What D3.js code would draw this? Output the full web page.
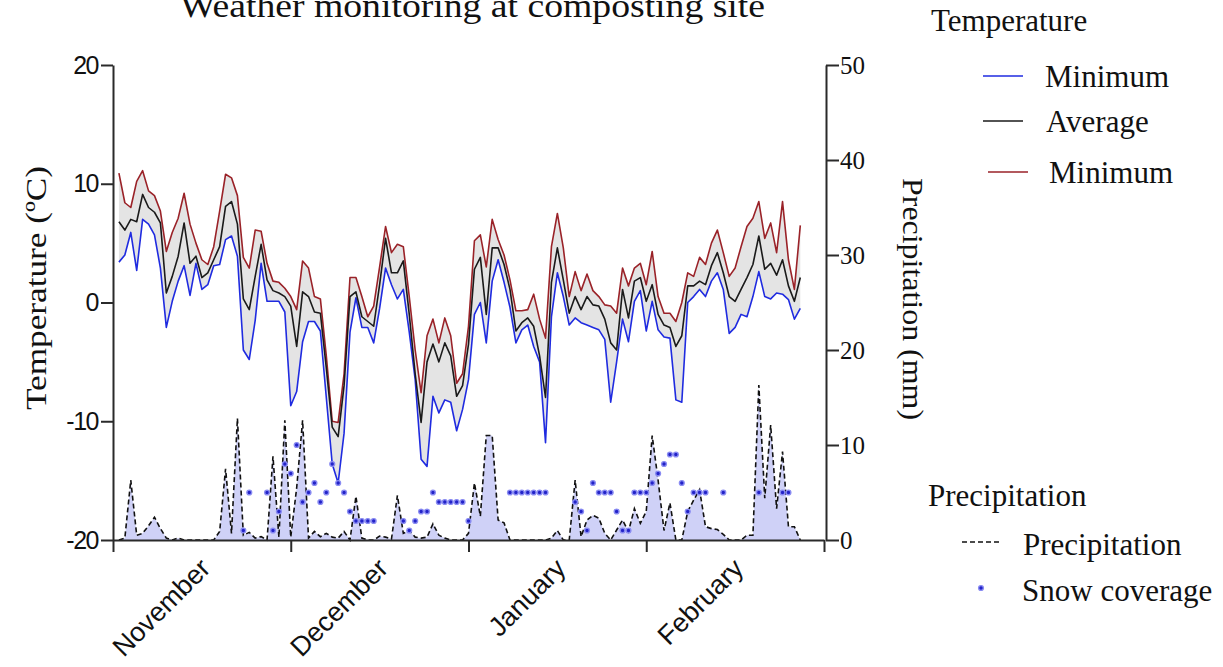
<!DOCTYPE html>
<html>
<head>
<meta charset="utf-8">
<script src="https://cdn.jsdelivr.net/npm/d3@7"></script>
<style>
  body { margin: 0; background: #fff; }
  svg { display: block; }
  .serif { font-family: "Liberation Serif", "DejaVu Serif", serif; fill: #111; }
  .sans { font-family: "Liberation Sans", Arial, sans-serif; fill: #111; }
</style>
</head>
<body>
<svg id="chart" width="1223" height="667"></svg>
<script>
// daily readings, day 1 .. 116 (Nov -> late Feb)
const maxTemp = [10.9, 8.4, 8.0, 10.2, 11.1, 9.4, 9.0, 7.7, 4.3, 5.9, 7.1, 9.2, 6.6, 5.0, 3.6, 3.2, 4.7, 7.7, 10.8, 10.5,
  9.0, 3.8, 2.9, 6.1, 6.0, 3.3, 1.8, 1.7, 1.2, 0.5, -0.6, 3.5, 2.9, 0.5, 0.3, -4.5, -10.0, -10.1, -6.0, 2.1,
  2.1, 0.5, -1.2, -0.3, 3.0, 6.4, 4.2, 4.9, 4.7, 0.5, -4.0, -7.6, -2.8, -1.4, -3.4, -1.3, -2.8, -6.8, -6.0, -2.0,
  5.2, 5.7, 3.0, 7.0, 5.3, 4.0, 1.9, -0.7, -0.7, -0.6, 0.7, -1.4, -3.0, 4.7, 7.5, 4.6, 0.5, 2.6, 1.0, 2.4,
  1.0, 0.5, -0.2, -0.3, -0.9, 2.9, 1.4, 2.9, 3.3, 1.5, 4.3, 0.5, -0.9, -0.9, -1.6, 0.0, 2.5, 2.2, 3.8, 3.2,
  5.0, 6.1, 4.2, 2.2, 2.9, 4.7, 6.4, 7.1, 8.5, 5.4, 6.7, 4.2, 8.5, 3.6, 1.1, 6.5];
const avgTemp = [6.8, 6.1, 7.0, 6.8, 9.1, 8.0, 7.6, 6.7, 0.8, 2.2, 3.9, 6.7, 3.3, 3.9, 2.1, 2.5, 3.6, 4.7, 8.1, 8.5,
  6.6, 0.3, -0.6, 2.2, 4.9, 1.9, 1.0, 0.8, 0.5, -0.3, -3.7, 0.9, 0.5, -0.8, -0.9, -5.5, -10.5, -11.3, -7.0, 0.5,
  0.9, -1.2, -1.6, -2.0, 1.5, 5.4, 2.5, 2.5, 3.5, -1.0, -6.0, -10.1, -5.0, -3.5, -5.0, -3.4, -4.5, -7.9, -7.0, -3.5,
  2.8, 3.8, -1.0, 4.6, 4.6, 3.2, 1.1, -2.4, -1.7, -1.3, -2.0, -4.5, -8.0, 1.7, 4.6, 1.9, -0.9, 0.5, -0.6, 0.5,
  -0.2, -0.3, -1.4, -3.4, -4.0, 1.1, -1.3, 1.8, 2.1, 0.1, 1.5, -1.0, -1.9, -2.1, -3.7, -2.8, 1.4, 1.4, 1.8, 1.5,
  3.1, 4.2, 2.5, 0.5, 0.1, 1.1, 2.1, 3.2, 5.6, 2.8, 3.3, 2.3, 3.6, 1.4, 0.1, 2.1];
const minTemp = [3.4, 4.0, 5.9, 2.7, 7.0, 6.6, 5.7, 2.9, -2.1, 0.1, 1.8, 3.1, 0.6, 3.3, 1.1, 1.5, 3.1, 3.2, 5.3, 5.6,
  3.9, -4.0, -4.8, -1.5, 3.3, 0.1, 0.1, 0.1, -0.8, -8.7, -7.5, -3.3, -1.6, -1.6, -2.4, -8.0, -13.6, -15.2, -11.0, -2.5,
  0.4, -2.1, -2.1, -3.4, -0.5, 2.9, 1.5, 0.3, 1.1, -2.5, -6.5, -13.2, -13.8, -7.9, -9.3, -8.2, -8.4, -10.8, -9.0, -6.5,
  -1.0, 0.0, -3.4, 1.8, 3.6, 1.7, -0.4, -3.4, -2.3, -1.9, -3.7, -5.0, -11.8, -1.2, 2.5, 0.5, -1.9, -1.3, -1.7, -1.9,
  -2.1, -2.3, -3.1, -8.4, -5.0, -1.4, -3.3, 0.1, 1.0, -2.4, 0.1, -2.3, -2.9, -3.0, -8.2, -8.4, 0.0, 0.5, 1.1, 0.5,
  1.8, 2.5, 1.1, -2.6, -2.1, -1.0, -1.2, 0.5, 2.6, 0.5, 0.3, 0.8, 0.7, 0.25, -1.4, -0.5];
const precip = [0, 0.2, 6.3, 0.5, 0.7, 1.5, 2.4, 1.2, 0.2, 0, 0.2, 0, 0, 0, 0, 0, 0, 0.9, 7.5, 0.7,
  12.8, 0.5, 0.8, 0.2, 0.35, 0, 8.8, 0.3, 12.6, 0.3, 5.5, 12.6, 0.2, 0.9, 0.35, 0.7, 0.3, 0.2, 0.9, 0,
  4.6, 0.2, 0, 0, 0.4, 0.3, 0.1, 4.7, 0.7, 1.0, 0.3, 0.2, 0.3, 1.7, 0.5, 0.2, 0, 0, 0, 0.7,
  6.0, 2.5, 11.0, 11.0, 2.1, 1.8, 0, 0, 0, 0, 0, 0, 0, 0.2, 1.0, 0, 0, 6.3, 0.35, 2.1,
  2.6, 2.3, 0.7, 0, 1.05, 2.1, 0.9, 3.3, 1.75, 3.0, 11.0, 6.3, 1.0, 3.9, 0, 0, 3.0, 4.2, 5.3, 1.4,
  1.2, 1.1, 0.6, 0, 0, 0, 0.5, 0.5, 16.3, 4.4, 12.1, 3.3, 9.3, 1.4, 1.4, 0];
const snowDays = [22, 23, 26, 27, 28, 29, 30, 31, 32, 33, 34, 35, 36, 37, 38, 39, 40, 41, 42, 43, 44,
  49, 50, 51, 52, 53, 54, 55, 56, 57, 58, 59, 60, 67, 68, 69, 70, 71, 72, 73,
  78, 79, 80, 81, 82, 83, 84, 85, 86, 87, 88, 89, 90, 91, 92, 93, 94, 95, 96, 97, 98, 99, 100,
  103, 109, 113, 114];
const snowDepth = [1, 5, 5, 1, 3, 8, 7, 10, 4, 5, 6, 4, 5, 8, 6, 5, 3, 2, 2, 2, 2,
  2, 1, 2, 3, 3, 5, 4, 4, 4, 4, 4, 2, 5, 5, 5, 5, 5, 5, 5,
  4, 3, 1, 6, 5, 5, 5, 3, 1, 1, 5, 5, 5, 6, 7, 8, 9, 9, 6, 3, 5, 5, 5,
  5, 5, 5, 5];
const months = ["November", "December", "January", "February"];
const monthStarts = [0, 30, 60, 90, 120];
const tempTicks = [-20, -10, 0, 10, 20];
const precipTicks = [0, 10, 20, 30, 40, 50];

const svg = d3.select("#chart");
const days = maxTemp.map((_, i) => i + 1);

const x = d3.scaleLinear().domain([0, 120]).range([113, 824]);
const yT = d3.scaleLinear().domain([-20, 20]).range([540, 65]);
const yP = d3.scaleLinear().domain([0, 50]).range([540, 65]);

// precipitation fill
svg.append("path")
  .datum(days)
  .attr("fill", "#cfd1f7")
  .attr("d", d3.area().x((d) => x(d)).y0(yP(0)).y1((d) => yP(precip[d - 1])));

// temperature band between min and max
svg.append("path")
  .datum(days)
  .attr("fill", "#e4e4e4")
  .attr("d", d3.area().x((d) => x(d)).y0((d) => yT(minTemp[d - 1])).y1((d) => yT(maxTemp[d - 1])));

svg.append("path")
  .datum(days)
  .attr("fill", "none")
  .attr("stroke", "#111")
  .attr("stroke-width", 1.6)
  .attr("stroke-dasharray", "5,3")
  .attr("d", d3.line().x((d) => x(d)).y((d) => yP(precip[d - 1])));

const tempLines = [
  { vals: minTemp, color: "#1f2be0" },
  { vals: maxTemp, color: "#9a2228" },
  { vals: avgTemp, color: "#1a1a1a" },
];
tempLines.forEach((s) => {
  svg.append("path")
    .datum(days)
    .attr("fill", "none")
    .attr("stroke", s.color)
    .attr("stroke-width", 1.6)
    .attr("stroke-linejoin", "round")
    .attr("d", d3.line().x((d) => x(d)).y((d) => yT(s.vals[d - 1])));
});

// snow coverage markers
svg.append("g").selectAll("circle")
  .data(snowDays)
  .join("circle")
  .attr("cx", (d) => x(d))
  .attr("cy", (d, i) => yP(snowDepth[i]))
  .attr("r", 2.4)
  .attr("fill", "#2323c8")
  .attr("stroke", "#8a8cf2")
  .attr("stroke-width", 1.4);

// axes
const styleAxis = (g) => {
  g.selectAll(".domain, line").attr("stroke", "#2a2a2a").attr("stroke-width", 2);
};
svg.append("g")
  .attr("transform", `translate(${x(0)},0)`)
  .call(d3.axisLeft(yT).tickValues(tempTicks).tickSize(12).tickSizeOuter(0).tickFormat((d) => String(d)).tickPadding(3))
  .call(styleAxis)
  .call((g) => g.selectAll("text").attr("class", "sans").attr("font-size", 25).attr("fill", "#111").style("letter-spacing", "-1.5px"));

svg.append("g")
  .attr("transform", "translate(826,0)")
  .call(d3.axisRight(yP).tickValues(precipTicks).tickSize(13).tickSizeOuter(0).tickPadding(1))
  .call(styleAxis)
  .call((g) => g.selectAll("text").attr("class", "serif").attr("font-size", 25).attr("fill", "#111"));

svg.append("g")
  .attr("transform", `translate(0,${yT(-20)})`)
  .call(d3.axisBottom(x).tickValues(monthStarts).tickSize(12).tickSizeOuter(0).tickFormat(""))
  .call(styleAxis);

svg.append("g").selectAll("text")
  .data(months)
  .join("text")
  .attr("class", "sans")
  .attr("font-size", 27)
  .attr("text-anchor", "end")
  .attr("transform", (d, i) => `translate(${x(monthStarts[i] + 15) + 10},${570}) rotate(-45)`)
  .text((d) => d);

// titles
svg.append("text").attr("class", "serif").attr("x", 180).attr("y", 17)
  .attr("font-size", 33).attr("textLength", 585).attr("lengthAdjust", "spacingAndGlyphs")
  .text("Weather monitoring at composting site");

svg.append("text").attr("class", "serif").attr("font-size", 30).attr("text-anchor", "middle")
  .attr("textLength", 244).attr("lengthAdjust", "spacingAndGlyphs")
  .attr("transform", "translate(46,288) rotate(-90)")
  .text("Temperature (ºC)");

svg.append("text").attr("class", "serif").attr("font-size", 30).attr("text-anchor", "middle")
  .attr("textLength", 242).attr("lengthAdjust", "spacingAndGlyphs")
  .attr("transform", "translate(903,299) rotate(90)")
  .text("Precipitation (mm)");

// legend
const legend = svg.append("g");
legend.append("text").attr("class", "serif").attr("x", 931).attr("y", 31).attr("font-size", 31).text("Temperature");
const tempLegend = [
  { label: "Minimum", color: "#1f2be0", y: 76, x0: 983, tx: 1045 },
  { label: "Average", color: "#1a1a1a", y: 121, x0: 983, tx: 1046 },
  { label: "Minimum", color: "#9a2228", y: 172, x0: 988, tx: 1049 },
];
tempLegend.forEach((l) => {
  legend.append("line").attr("x1", l.x0).attr("x2", l.x0 + 40).attr("y1", l.y).attr("y2", l.y)
    .attr("stroke", l.color).attr("stroke-width", 1.6);
  legend.append("text").attr("class", "serif").attr("x", l.tx).attr("y", l.y + 11).attr("font-size", 31).text(l.label);
});
legend.append("text").attr("class", "serif").attr("x", 928).attr("y", 506).attr("font-size", 31).text("Precipitation");
legend.append("line").attr("x1", 962).attr("x2", 1002).attr("y1", 542).attr("y2", 542)
  .attr("stroke", "#111").attr("stroke-width", 1.6).attr("stroke-dasharray", "5,3");
legend.append("text").attr("class", "serif").attr("x", 1023).attr("y", 555).attr("font-size", 31).text("Precipitation");
legend.append("circle").attr("cx", 981).attr("cy", 588).attr("r", 2.4)
  .attr("fill", "#2323c8").attr("stroke", "#8a8cf2").attr("stroke-width", 1.4);
legend.append("text").attr("class", "serif").attr("x", 1022).attr("y", 601).attr("font-size", 31).text("Snow coverage");
</script>
</body>
</html>
